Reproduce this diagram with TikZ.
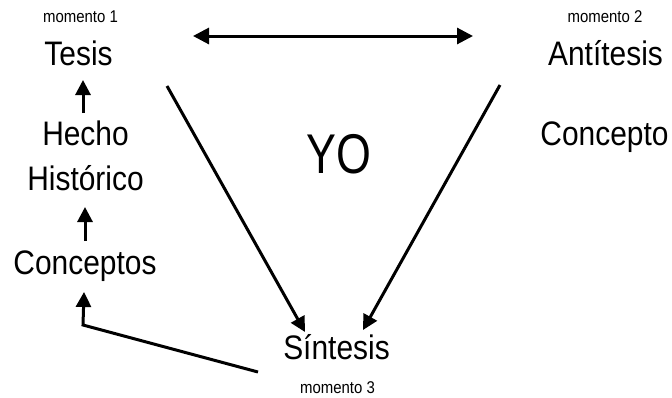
\documentclass[tikz,border=0pt]{standalone}
\usepackage{fontspec}
\setmainfont{Liberation Sans}
\newfontfamily\narrowfont[FakeStretch=0.88]{Liberation Sans}
\usetikzlibrary{arrows.meta}
\tikzset{
  big/.style={inner sep=0pt, anchor=base, font=\narrowfont\fontsize{34}{38}\selectfont},
  small/.style={inner sep=0pt, anchor=base, font=\narrowfont\fontsize{17}{19}\selectfont},
  arr/.style={line width=3pt, -{Triangle[width=15pt,length=15pt]}},
  darr/.style={line width=3pt, {Triangle[width=16pt,length=16pt]}-{Triangle[width=16pt,length=16pt]}},
}
\begin{document}
\begin{tikzpicture}[x=1pt,y=-1pt]
\useasboundingbox (0,0) rectangle (672,397);
% texts
\node[small] (m1) at (80.5,22) {momento 1};
\node[big] (tesis) at (78.5,65) {Tesis};
\node[big] (hecho) at (85.5,145) {Hecho};
\node[big] (hist) at (85.5,190) {Histórico};
\node[big] (conc) at (85,274) {Conceptos};
\node[small] (m2) at (605,22) {momento 2};
\node[big] (anti) at (605.5,65) {Antítesis};
\node[big] (conc2) at (604.5,145) {Concepto};
\node[inner sep=0pt, anchor=base, font=\fontsize{56}{60}\selectfont] (yo) at (339,173) {\scalebox{0.8}[1]{YO}};
\node[big] (sint) at (336.5,359) {Síntesis};
\node[small] (m3) at (337.5,393) {momento 3};
% connector end points
\coordinate (dL) at (193,36);
\coordinate (dR) at (473,36);
\coordinate (a1s) at (167,86);
\coordinate (a1e) at (305,332);
\coordinate (a2s) at (500,85);
\coordinate (a2e) at (363,330);
\coordinate (u1s) at (83,113);
\coordinate (u1e) at (83,80);
\coordinate (u2s) at (85,241);
\coordinate (u2e) at (85,207);
\coordinate (bs) at (258,372);
\coordinate (bc) at (83,325);
\coordinate (be) at (84,292);
% connectors
\draw[darr] (dL) -- (dR);
\draw[arr] (a1s) -- (a1e);
\draw[arr] (a2s) -- (a2e);
\draw[arr] (u1s) -- (u1e);
\draw[arr] (u2s) -- (u2e);
\draw[arr, line join=miter] (bs) -- (bc) -- (be);
\end{tikzpicture}
\end{document}
